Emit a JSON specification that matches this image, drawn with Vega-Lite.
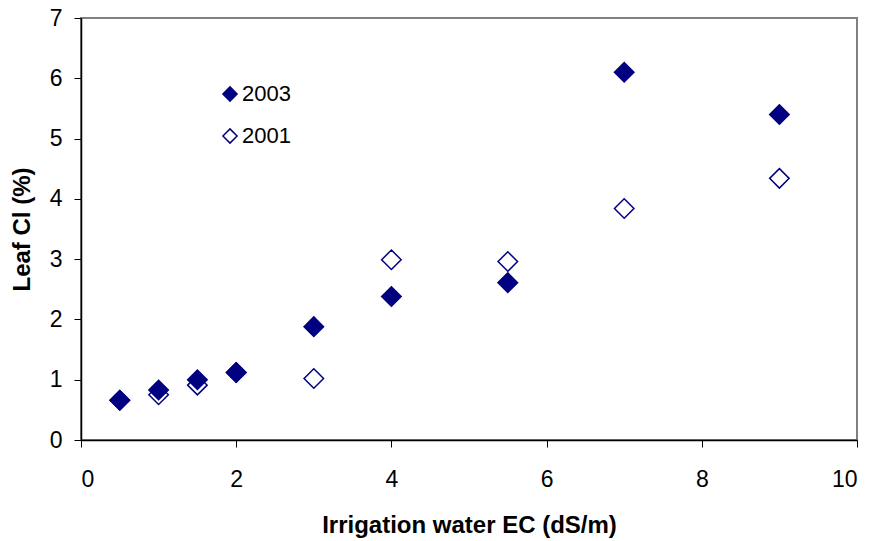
{
  "$schema": "https://vega.github.io/schema/vega-lite/v6.json",
  "width": 776,
  "height": 422,
  "autosize": {"type": "none"},
  "padding": {"left": 81, "top": 18, "right": 18, "bottom": 101},
  "background": "white",
  "config": {
    "font": "Liberation Sans",
    "view": {"stroke": "#808080", "strokeWidth": 2},
    "axis": {
      "grid": false,
      "domainColor": "#000000",
      "domainWidth": 1.5,
      "tickColor": "#000000",
      "tickWidth": 1,
      "tickSize": 7,
      "labelFont": "Liberation Sans",
      "labelFontSize": 23,
      "labelColor": "#000000",
      "titleFont": "Liberation Sans",
      "titleFontSize": 24,
      "titleFontWeight": "bold",
      "titleColor": "#000000"
    }
  },
  "data": {
    "values": [
      {"ec": 0.5, "cl": 0.66, "year": "2001"},
      {"ec": 1, "cl": 0.75, "year": "2001"},
      {"ec": 1.5, "cl": 0.91, "year": "2001"},
      {"ec": 2, "cl": 1.12, "year": "2001"},
      {"ec": 3, "cl": 1.02, "year": "2001"},
      {"ec": 4, "cl": 2.99, "year": "2001"},
      {"ec": 5.5, "cl": 2.96, "year": "2001"},
      {"ec": 7, "cl": 3.84, "year": "2001"},
      {"ec": 9, "cl": 4.34, "year": "2001"},
      {"ec": 0.5, "cl": 0.66, "year": "2003"},
      {"ec": 1, "cl": 0.83, "year": "2003"},
      {"ec": 1.5, "cl": 1.0, "year": "2003"},
      {"ec": 2, "cl": 1.12, "year": "2003"},
      {"ec": 3, "cl": 1.88, "year": "2003"},
      {"ec": 4, "cl": 2.38, "year": "2003"},
      {"ec": 5.5, "cl": 2.61, "year": "2003"},
      {"ec": 7, "cl": 6.1, "year": "2003"},
      {"ec": 9, "cl": 5.4, "year": "2003"}
    ]
  },
  "mark": {
    "type": "point",
    "shape": "diamond",
    "filled": true,
    "opacity": 1,
    "size": 380,
    "stroke": "#000080",
    "strokeWidth": 1.5
  },
  "encoding": {
    "x": {
      "field": "ec",
      "type": "quantitative",
      "scale": {"domain": [0, 10], "nice": false, "zero": true},
      "axis": {"values": [0, 2, 4, 6, 8, 10], "title": "Irrigation water EC (dS/m)", "labelPadding": 21, "titlePadding": 22}
    },
    "y": {
      "field": "cl",
      "type": "quantitative",
      "scale": {"domain": [0, 7], "nice": false},
      "axis": {"values": [0, 1, 2, 3, 4, 5, 6, 7], "title": "Leaf Cl (%)", "labelPadding": 12, "titlePadding": 15}
    },
    "fill": {
      "field": "year",
      "type": "nominal",
      "scale": {"domain": ["2003", "2001"], "range": ["#000080", "#ffffff"]},
      "legend": {
        "title": null,
        "orient": "none",
        "legendX": 138,
        "legendY": 65,
        "symbolType": "diamond",
        "symbolSize": 200,
        "symbolStrokeColor": "#000080",
        "symbolStrokeWidth": 1.5,
        "symbolOpacity": 1,
        "labelFontSize": 22,
        "labelFont": "Liberation Sans",
        "labelColor": "#000000",
        "labelOffset": 1,
        "rowPadding": 20
      }
    }
  }
}
